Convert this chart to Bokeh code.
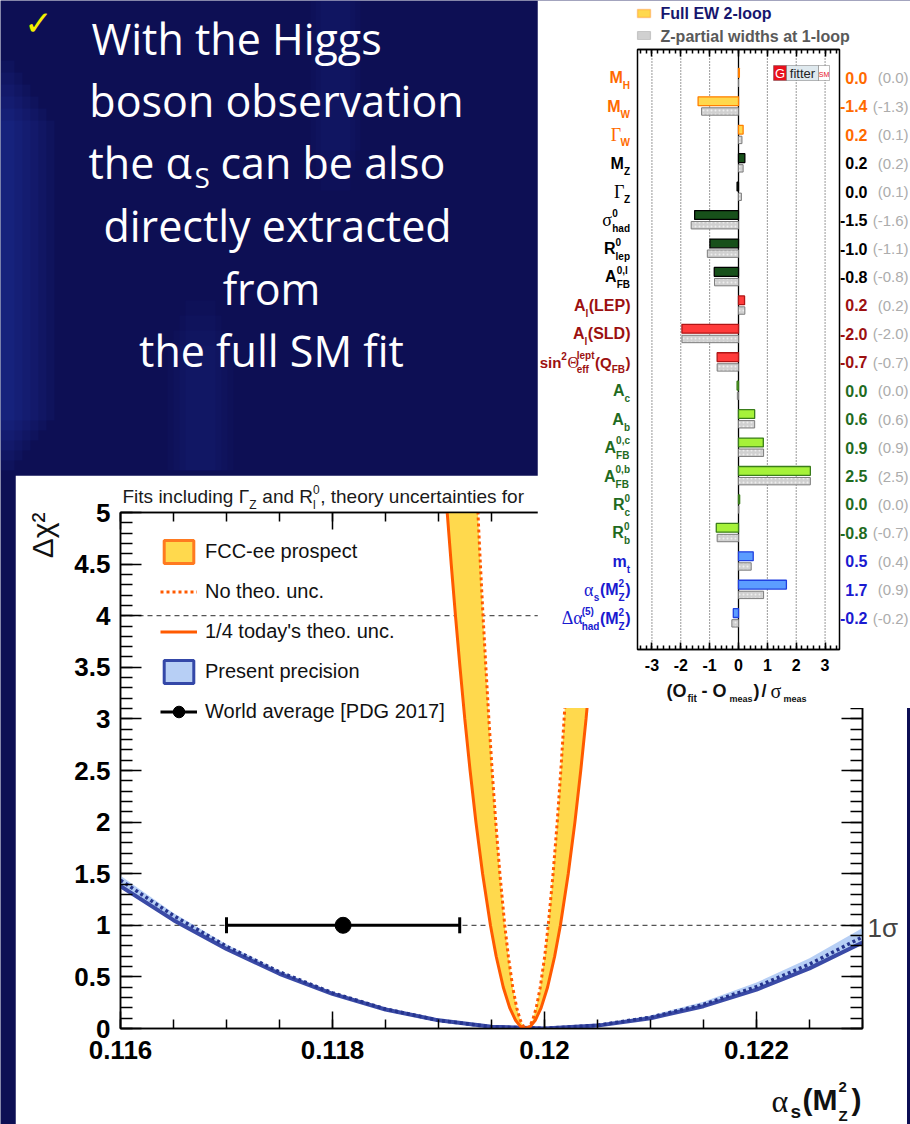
import math
from bokeh.plotting import figure
from bokeh.models import (Range1d, LinearAxis, SingleIntervalTicker, FixedTicker, Span, Label,
                          Legend, LegendItem, Whisker, TeeHead, ColumnDataSource, BoxAnnotation,
                          PrintfTickFormatter, CustomLabelingPolicy)
from bokeh.embed import file_html
from bokeh.resources import INLINE

SANS = "Liberation Sans"
SERIF = "Liberation Serif"
SLIDE = "Open Sans"
BG = "#0d0f54"
NAN = float("nan")

# ------------------------------------------------------------------ data
slide_line1 = "With the Higgs"
slide_line2 = "boson observation"
slide_line3 = ("the α", "S", "can be also")
slide_line4 = "directly extracted"
slide_line5 = "from"
slide_line6 = "the full SM fit"

# pull plot (Gfitter)
pull_labels = [
    [("M", "n"), ("H", "sub")],
    [("M", "n"), ("W", "sub")],
    [("Γ", "gk"), ("W", "sub")],
    [("M", "n"), ("Z", "sub")],
    [("Γ", "gk"), ("Z", "sub")],
    [("σ", "gk"), (("0", "had"), "ss")],
    [("R", "n"), (("0", "lep"), "ss")],
    [("A", "n"), (("0,l", "FB"), "ss")],
    [("A", "n"), ("l", "sub"), ("(LEP)", "n")],
    [("A", "n"), ("l", "sub"), ("(SLD)", "n")],
    [("sin", "n"), ("2", "sup"), ("Θ", "gk"), (("lept", "eff"), "ss"), ("(Q", "n"), ("FB", "sub"), (")", "n")],
    [("A", "n"), ("c", "sub")],
    [("A", "n"), ("b", "sub")],
    [("A", "n"), (("0,c", "FB"), "ss")],
    [("A", "n"), (("0,b", "FB"), "ss")],
    [("R", "n"), (("0", "c"), "ss")],
    [("R", "n"), (("0", "b"), "ss")],
    [("m", "n"), ("t", "sub")],
    [("α", "gk"), ("s", "sub"), ("(M", "n"), (("2", "Z"), "ss"), (")", "n")],
    [("Δα", "gk"), (("(5)", "had"), "ss"), ("(M", "n"), (("2", "Z"), "ss"), (")", "n")],
]
pull_groups = ["ew", "ew", "ew", "z", "z", "z", "z", "z", "lep", "lep", "lep",
               "hf", "hf", "hf", "hf", "hf", "hf", "in", "in", "in"]
pull_full_ew = [0.03, -1.40, 0.16, 0.22, -0.049, -1.52, -0.99, -0.84, 0.21, -1.96, -0.74,
                -0.049, 0.56, 0.86, 2.49, 0.04, -0.77, 0.51, 1.66, -0.18]
pull_zpartial = [0.0, -1.28, 0.12, 0.16, 0.10, -1.64, -1.08, -0.83, 0.22, -1.96, -0.74,
                 -0.04, 0.56, 0.87, 2.49, 0.01, -0.74, 0.44, 0.87, -0.23]
pull_ticks = [-3, -2, -1, 0, 1, 2, 3]
pull_legend = ["Full EW 2-loop", "Z-partial widths at 1-loop"]

group_style = {  # fill, outline, text
    "ew": ("#ffd84d", "#ff7f00", "#ff6a00"),
    "z": ("#17501a", "#000000", "#000000"),
    "lep": ("#ff3b3b", "#b01515", "#9c1010"),
    "hf": ("#a6f23a", "#3a7d1a", "#1f6b1f"),
    "in": ("#5c9dff", "#2040e0", "#1a1ad0"),
}

# Delta chi^2 scan
alpha_grid = [0.1160, 0.1165, 0.1170, 0.1175, 0.1180, 0.1185, 0.1190, 0.1195,
              0.1200, 0.1205, 0.1210, 0.1215, 0.1220, 0.1225, 0.1230]
present_solid = [1.38, 1.05, 0.77, 0.53, 0.335, 0.184, 0.079, 0.017,
                 0.0, 0.028, 0.100, 0.216, 0.377, 0.583, 0.833]
present_dotted = [1.437, 1.094, 0.797, 0.548, 0.345, 0.189, 0.079, 0.016,
                  0.001, 0.031, 0.109, 0.233, 0.405, 0.623, 0.887]
present_band_hi = [1.48, 1.12, 0.815, 0.56, 0.355, 0.197, 0.085, 0.02,
                   0.002, 0.04, 0.125, 0.26, 0.445, 0.68, 0.975]

chi2_levels = [0, 0.02, 0.08, 0.2, 0.4, 0.7, 1.0, 1.5, 2.0, 2.5, 3.0, 3.5, 4.0, 4.5, 5.0, 5.3]
fcc_solid_left = [0.11982, 0.119773, 0.119727, 0.119672, 0.119611, 0.119544, 0.11949, 0.119416,
                  0.119353, 0.119298, 0.119248, 0.119203, 0.11916, 0.11912, 0.119082, 0.11906]
fcc_solid_right = [0.11982, 0.119867, 0.119913, 0.119968, 0.120029, 0.120096, 0.12015, 0.120224,
                   0.120287, 0.120342, 0.120392, 0.120437, 0.12048, 0.12052, 0.120558, 0.12058]
fcc_dotted_left = [0.11983, 0.119801, 0.119772, 0.119738, 0.1197, 0.119659, 0.119625, 0.119579,
                   0.11954, 0.119506, 0.119475, 0.119447, 0.11942, 0.119395, 0.119372, 0.119358]
fcc_dotted_right = [0.11983, 0.119859, 0.119888, 0.119922, 0.11996, 0.120002, 0.120035, 0.120081,
                    0.12012, 0.120154, 0.120185, 0.120214, 0.12024, 0.120265, 0.120288, 0.120302]

wa_value = 0.1181
wa_error = 0.0011
wa_level = 1.0

chi_xticks = [0.116, 0.118, 0.120, 0.122]
legend_labels = ["FCC-ee prospect", "No theo. unc.", "1/4 today's theo. unc.",
                 "Present precision", "World average [PDG 2017]"]

# ------------------------------------------------------------------ helpers
W_BOLD = {" ": .278, "(": .333, ")": .333, ",": .278, "-": .333, ".": .278, "/": .278,
          "A": .722, "B": .722, "D": .722, "E": .667, "F": .611, "H": .722, "L": .611,
          "M": .833, "P": .667, "Q": .778, "R": .722, "S": .667, "W": .944, "Z": .611,
          "a": .556, "b": .611, "c": .556, "d": .611, "e": .556, "f": .333, "h": .611,
          "i": .278, "l": .278, "m": .889, "n": .611, "p": .611, "s": .556, "t": .333}
W_REG = {" ": .278, "a": .556, "c": .5, "d": .556, "e": .556, "f": .278, "g": .556,
         "h": .556, "i": .222, "l": .222, "n": .556, "o": .556, "r": .333, "s": .5,
         "t": .278, "u": .556, "y": .5, "F": .611, "R": .722, "Z": .611, "Γ": .556,
         ",": .278}


def tw(s, size, bold=True):
    tbl = W_BOLD if bold else W_REG
    tot = 0.0
    for c in s:
        tot += .556 if c.isdigit() else tbl.get(c, .6)
    return tot * size


def abs_style(left, top):
    return {"position": "absolute", "left": f"{left}px", "top": f"{top}px"}


def page_layer(fill=None):
    kw = dict(width=910, height=1124, x_range=Range1d(0, 910), y_range=Range1d(1124, 0),
              x_axis_type=None, y_axis_type=None, title=None, output_backend="svg",
              toolbar_location=None, min_border=0, outline_line_color=None,
              styles=abs_style(0, 0))
    if fill is None:
        kw.update(background_fill_alpha=0, border_fill_alpha=0)
    else:
        kw.update(background_fill_color=fill, border_fill_color=fill)
    f = figure(**kw)
    f.grid.visible = False
    return f


def put(fig, px, py, text, size, color, bold=False, align="left", font=SANS,
        baseline="middle", angle=0.0):
    fig.add_layout(Label(x=px, y=py, text=text, text_font=font, text_font_size=f"{size}px",
                         text_font_style="bold" if bold else "normal", text_color=color,
                         text_align=align, text_baseline=baseline, angle=angle))


def box(fig, l, r, t, b, fill, line, lw=1.2, alpha=1.0):
    fig.add_layout(BoxAnnotation(left=l, right=r, top=t, bottom=b, fill_color=fill,
                                 fill_alpha=alpha, line_color=line, line_width=lw))


def compose(fig, pieces, px, py, size, color, align="right", bold=True,
            sub_dy=0.5, sup_dy=-0.42, ss=None):
    ss = ss or round(size * 0.66)

    def width(p):
        t, k = p
        if k == "n":
            return tw(t, size, bold)
        if k == "gk":
            return 0.62 * size * len(t)
        if k in ("sub", "sup"):
            return tw(t, ss, bold) + 0.5
        return max(tw(t[0], ss, bold), tw(t[1], ss, bold)) + 0.5

    total = sum(width(p) for p in pieces)
    x = px - total if align == "right" else px
    for p in pieces:
        t, k = p
        if k == "n":
            lead = len(t) - len(t.lstrip(" "))
            put(fig, x + tw(" " * lead, size, bold), py, t.strip(" "), size, color, bold=bold)
        elif k == "gk":
            put(fig, x, py, t, round(size * 1.1), color, font=SERIF)
        elif k == "sub":
            put(fig, x, py + sub_dy * size, t, ss, color, bold=bold)
        elif k == "sup":
            put(fig, x, py + sup_dy * size, t, ss, color, bold=bold)
        else:
            put(fig, x, py + sup_dy * size, t[0], ss, color, bold=bold)
            put(fig, x, py + sub_dy * size, t[1], ss, color, bold=bold)
        x += width(p)


def fmt1(v):
    s = f"{v:.1f}"
    return "0.0" if s == "-0.0" else s


NO_LABELS = "for (const i of indices) { indices.unset(i) }\nreturn indices"


def style_axis(ax, tin, tmin, labels=True, standoff=10, size="26px"):
    ax.axis_line_color = "black"
    ax.axis_line_width = 1.5
    ax.major_tick_line_color = "black"
    ax.major_tick_line_width = 1.5
    ax.minor_tick_line_color = "black"
    ax.minor_tick_line_width = 1.5
    ax.major_tick_in = tin
    ax.major_tick_out = 0
    ax.minor_tick_in = tmin
    ax.minor_tick_out = 0
    ax.formatter = PrintfTickFormatter(format="%g")
    ax.major_label_text_font = SANS
    ax.major_label_text_font_style = "bold"
    ax.major_label_text_font_size = size
    ax.major_label_text_color = "black"
    ax.major_label_standoff = standoff
    if not labels:
        ax.major_label_policy = CustomLabelingPolicy(code=NO_LABELS)
        ax.major_label_standoff = 0


# ------------------------------------------------------------------ background slide
bg = page_layer(BG)
# soft lighter streaks of the slide background
for k in range(6):
    box(bg, 0, 14 + 8 * k, 60 + 12 * k, 470 - 10 * k, "#3050d8", None, 0, 0.06)
for k in range(4):
    box(bg, 185 - 6 * k, 215 + 6 * k, 300 + 15 * k, 470, "#3050d8", None, 0, 0.04)
for k in range(3):
    box(bg, 320 - 5 * k, 350 + 5 * k, 0, 190 - 20 * k, "#3050d8", None, 0, 0.035)

put(bg, 38, 22, "✓", 34, "#f5f000", font="DejaVu Sans", align="center")
put(bg, 91, 38, slide_line1, 43, "white", font=SLIDE, baseline="alphabetic")
put(bg, 276, 100, slide_line2, 43, "white", font=SLIDE, baseline="alphabetic", align="center")
put(bg, 88, 162, slide_line3[0], 43, "white", font=SLIDE, baseline="alphabetic")
put(bg, 194, 176, slide_line3[1], 28, "white", font=SLIDE, baseline="alphabetic")
put(bg, 220, 162, slide_line3[2], 43, "white", font=SLIDE, baseline="alphabetic")
put(bg, 277, 225, slide_line4, 43, "white", font=SLIDE, baseline="alphabetic", align="center")
put(bg, 271, 288, slide_line5, 43, "white", font=SLIDE, baseline="alphabetic", align="center")
put(bg, 271, 350, slide_line6, 43, "white", font=SLIDE, baseline="alphabetic", align="center")

# ------------------------------------------------------------------ delta chi2 figure
CL, CT, CW, CH = 15, 475, 892, 649
cbl, cbr, cbt, cbb = 105, 45, 37, 96
XA, XB = 0.116, 0.123

chi = figure(width=CW, height=CH, x_range=Range1d(XA, XB), y_range=Range1d(0, 5), title=None,
             output_backend="svg", toolbar_location=None,
             min_border_left=cbl, min_border_right=cbr, min_border_top=cbt, min_border_bottom=cbb,
             background_fill_color="white", border_fill_color="white",
             outline_line_color="black", outline_line_width=1.5, styles=abs_style(CL, CT))
chi.grid.visible = False

minor_x = [round(XA + 0.0005 * k, 5) for k in range(15)]

xb = chi.xaxis[0]
xb.ticker = FixedTicker(ticks=chi_xticks, minor_ticks=minor_x)
style_axis(xb, 17, 9, True, 12)
yl = chi.yaxis[0]
yl.ticker = SingleIntervalTicker(interval=0.5, num_minor_ticks=5)
style_axis(yl, 21, 12, True, 10)
xt = LinearAxis(ticker=FixedTicker(ticks=chi_xticks, minor_ticks=minor_x))
style_axis(xt, 17, 9, False)
chi.add_layout(xt, "above")
yr = LinearAxis(ticker=SingleIntervalTicker(interval=0.5, num_minor_ticks=5))
style_axis(yr, 21, 12, False)
chi.add_layout(yr, "right")

for lev in [1.0, 4.0]:
    chi.add_layout(Span(location=lev, dimension="width", line_color="#555555",
                        line_dash="5 4", line_width=1.2, level="underlay"))

BLUE_FILL = "#b7cff5"
BLUE_LINE = "#3a4aa6"
YEL = "#ffd94d"
ORA = "#ff5a00"

chi.varea(x=alpha_grid, y1=present_solid, y2=present_band_hi, fill_color=BLUE_FILL)
chi.line(alpha_grid, present_solid, line_color=BLUE_LINE, line_width=4)
chi.line(alpha_grid, present_dotted, line_color="#26358f", line_width=3.5, line_dash="3 3")

chi.harea(x1=fcc_solid_left, x2=fcc_dotted_left, y=chi2_levels, fill_color=YEL)
chi.harea(x1=fcc_dotted_right, x2=fcc_solid_right, y=chi2_levels, fill_color=YEL)
r_solid = chi.line(x=fcc_solid_left[::-1] + fcc_solid_right[1:],
                   y=chi2_levels[::-1] + chi2_levels[1:], line_color=ORA, line_width=3)
r_dot = chi.line(x=fcc_dotted_left[::-1] + fcc_dotted_right[1:],
                 y=chi2_levels[::-1] + chi2_levels[1:], line_color=ORA, line_width=3,
                 line_dash="3 3")

wa_src = ColumnDataSource(dict(base=[wa_level], lower=[wa_value - wa_error],
                               upper=[wa_value + wa_error]))
chi.add_layout(Whisker(source=wa_src, base="base", lower="lower", upper="upper",
                       dimension="width", line_width=3, line_color="black",
                       upper_head=TeeHead(size=16, line_width=3, line_color="black"),
                       lower_head=TeeHead(size=16, line_width=3, line_color="black")))
r_wa = chi.scatter(x=[wa_value], y=[wa_level], size=16, color="black")

# legend-only swatches (no visible data)
r_fcc_box = chi.quad(left=[NAN], right=[NAN], top=[NAN], bottom=[NAN], fill_color=YEL,
                     line_color="#ff7a20", line_width=3)
r_pres_box = chi.quad(left=[NAN], right=[NAN], top=[NAN], bottom=[NAN], fill_color=BLUE_FILL,
                      line_color="#3448a8", line_width=3)
r_wa_line = chi.line(x=[NAN, NAN], y=[NAN, NAN], line_color="black", line_width=3)

leg = Legend(items=[LegendItem(label=legend_labels[0], renderers=[r_fcc_box]),
                    LegendItem(label=legend_labels[1], renderers=[r_dot]),
                    LegendItem(label=legend_labels[2], renderers=[r_solid]),
                    LegendItem(label=legend_labels[3], renderers=[r_pres_box]),
                    LegendItem(label=legend_labels[4], renderers=[r_wa_line, r_wa])],
             location=(40, 302), glyph_width=37, glyph_height=29, spacing=11, padding=0,
             margin=0, label_standoff=8, label_text_font=SANS, label_text_font_size="20px",
             label_text_color="#111111", border_line_alpha=0, background_fill_alpha=0,
             label_height=29)
chi.add_layout(leg)

# ------------------------------------------------------------------ pull figure
PL, PT, PW, PH = 537, 0, 373, 708
pbl, pbr, pbt, pbb = 100, 71, 49, 59
QY0, QY1 = PT + pbt, PT + PH - pbb
YTOP, YBOT = -1.0, 20.1

pull = figure(width=PW, height=PH, x_range=Range1d(-3.5, 3.5), y_range=Range1d(YBOT, YTOP),
              title=None, y_axis_type=None, output_backend="svg", toolbar_location=None,
              min_border_left=pbl, min_border_right=pbr, min_border_top=pbt,
              min_border_bottom=pbb, background_fill_color="white", border_fill_color="white",
              outline_line_color="black", outline_line_width=1.5, styles=abs_style(PL, PT))
pull.grid.visible = False
minor_p = [t / 5 for t in range(-17, 18)]
pxa = pull.xaxis[0]
pxa.ticker = FixedTicker(ticks=pull_ticks, minor_ticks=minor_p)
style_axis(pxa, 7, 4, True, 9, "16px")
ptop = LinearAxis(ticker=FixedTicker(ticks=pull_ticks, minor_ticks=minor_p))
style_axis(ptop, 7, 4, False)
pull.add_layout(ptop, "above")

for gx in pull_ticks:
    if gx == 0:
        pull.add_layout(Span(location=0, dimension="height", line_color="black",
                             line_width=1.3, level="underlay"))
    else:
        pull.add_layout(Span(location=gx, dimension="height", line_color="#333333",
                             line_width=1, line_dash="1 2", level="underlay"))

rows = list(range(len(pull_full_ew)))
full_src = ColumnDataSource(dict(
    y=[r - 0.18 for r in rows], right=pull_full_ew,
    fill=[group_style[g][0] for g in pull_groups],
    line=[group_style[g][1] for g in pull_groups]))
pull.hbar(y="y", left=0, right="right", height=0.31, fill_color="fill", line_color="line",
          line_width=1.3, source=full_src)
pull.hbar(y=[r + 0.18 for r in rows], left=0, right=pull_zpartial, height=0.26,
          fill_color="#d0d0d0", line_color="#7c7c7c", line_width=1,
          hatch_pattern="dot", hatch_color="#eeeeee", hatch_scale=4, hatch_weight=1)

# ------------------------------------------------------------------ text overlay (page pixels)
ov = page_layer(None)

# chi2 texts
compose(ov, [("Fits including Γ", "n"), ("Z", "sub"), (" and R", "n"),
             (("0", "l"), "ss"), (", theory uncertainties for", "n")],
        122, 496, 19, "#1a1a1a", align="left", bold=False, sub_dy=0.45, sup_dy=-0.35, ss=12)
put(ov, 42, 512, "Δχ²", 30, "#111111", align="right", angle=math.pi / 2)
put(ov, 771, 1100, "α", 32, "#111111", font=SERIF)
put(ov, 790, 1111, "s", 19, "#111111", bold=True)
put(ov, 802, 1099, "(M", 30, "#111111", bold=True)
put(ov, 838, 1086, "2", 15, "#111111", bold=True)
put(ov, 838, 1115, "Z", 15, "#111111", bold=True)
put(ov, 851, 1099, ")", 30, "#111111", bold=True)
put(ov, 867, 927, "1σ", 26, "#444444")

# pull texts
for i, pieces in enumerate(pull_labels):
    py = QY0 + (i - YTOP) / (YBOT - YTOP) * (QY1 - QY0)
    col = group_style[pull_groups[i]][2]
    size = 15 if len(pieces) > 5 else 16
    compose(ov, pieces, 630, py, size, col, align="right", ss=10)
    put(ov, 867, py, fmt1(pull_full_ew[i]), 16, col, bold=True, align="right")
    put(ov, 908, py, "(" + fmt1(pull_zpartial[i]) + ")", 15, "#acacac", align="right")

box(ov, 637, 650, 9, 17, "#ffd84d", "#ff6a00", 1.5)
put(ov, 660, 13, pull_legend[0], 16, "#16166e", bold=True)
box(ov, 637, 650, 31, 39, "#d0d0d0", "#7c7c7c", 1.2)
put(ov, 660, 36, pull_legend[1], 16, "#5a5a5a", bold=True)

# Gfitter logo
box(ov, 773, 786, 65, 80, "#e8101c", "#222222", 1)
put(ov, 779.5, 72.5, "G", 13, "white", align="center")
box(ov, 786, 818, 65, 80, "#dfe9ee", "#222222", 1)
put(ov, 802, 72.5, "fitter", 13, "#222222", align="center")
box(ov, 818, 829, 65, 80, "white", "#222222", 1)
put(ov, 823.5, 74, "SM", 7, "#e8101c", align="center")

# pull x-axis title
axis_title = [("(O", 666, 0, 18, True, SANS), ("fit", 687, 8, 10, True, SANS),
              ("- O", 701, 0, 18, True, SANS), ("meas", 729, 8, 9, True, SANS),
              (")", 753, 0, 18, True, SANS), ("/", 761, 0, 18, True, SANS),
              ("σ", 770, 0, 20, False, SERIF), ("meas", 783, 8, 9, True, SANS)]
for (t, x, dy, s, b, f) in axis_title:
    put(ov, x, 690 + dy, t, s, "#111111", bold=b, font=f)

html = file_html([bg, chi, pull, ov], INLINE, "alpha_s from the full SM fit")
with open("out.html", "w") as fh:
    fh.write(html)
